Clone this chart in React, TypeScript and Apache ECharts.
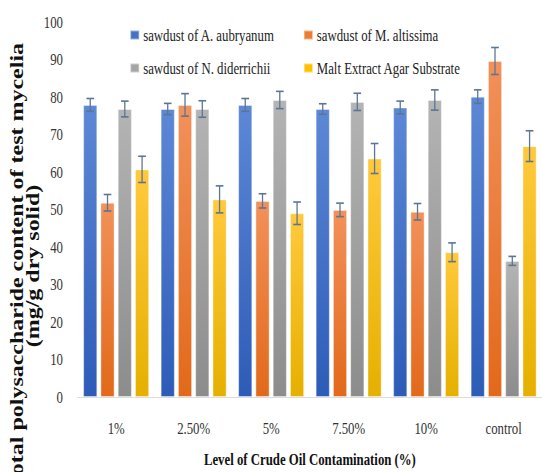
import React, { useEffect, useRef } from "react";
import * as echarts from "echarts";

const categories = ["1%", "2.50%", "5%", "7.50%", "10%", "control"];
const seriesNames = [
  "sawdust of A. aubryanum",
  "sawdust of M. altissima",
  "sawdust of N. diderrichii",
  "Malt Extract Agar Substrate",
];
const aubryanum = [77.9, 76.8, 77.9, 76.8, 77.2, 80.1];
const aubryanumErr = [1.7, 1.5, 1.7, 1.4, 1.7, 1.8];
const altissima = [51.8, 77.9, 52.3, 49.9, 49.4, 89.6];
const altissimaErr = [2.2, 3.0, 1.9, 1.8, 2.2, 3.6];
const diderrichii = [76.8, 76.8, 79.2, 78.7, 79.2, 36.3];
const diderrichiiErr = [2.1, 2.2, 2.3, 2.3, 2.7, 1.2];
const maltExtract = [60.7, 52.7, 49.0, 63.6, 38.6, 66.9];
const maltExtractErr = [3.5, 3.6, 3.0, 4.0, 2.5, 4.1];
const yTicks = { min: 0, max: 100, interval: 10 };

const allValues = [aubryanum, altissima, diderrichii, maltExtract];
const allErrors = [aubryanumErr, altissimaErr, diderrichiiErr, maltExtractErr];

const solidColors = ["#4472c4", "#ed7d31", "#a5a5a5", "#ffc000"];
const gradTop = ["#5d88d6", "#f2915a", "#b4b4b4", "#ffc93c"];
const gradBottom = ["#2d5cb8", "#e2691a", "#8c8c8c", "#e6b000"];

const SX = 0.8; // horizontal compression of the original picture
const W = 542 / SX;
const H = 472;
const BAR_W = 17.5;
const BAR_GAP = 4.1;
const FONT = "'Liberation Serif', 'Times New Roman', serif";

export default function App() {
  const ref = useRef<HTMLDivElement>(null);
  useEffect(() => {
    if (!ref.current) return;
    const chart = echarts.init(ref.current, null, { renderer: "svg" });

    const barSeries = allValues.map((vals, i) => ({
      type: "bar",
      name: seriesNames[i],
      data: vals,
      barWidth: BAR_W,
      barGap: (BAR_GAP / BAR_W) * 100 + "%",
      itemStyle: {
        color: new echarts.graphic.LinearGradient(0, 0, 0, 1, [
          { offset: 0, color: gradTop[i] },
          { offset: 1, color: gradBottom[i] },
        ]),
        borderColor: "rgba(255,255,255,0.45)",
        borderWidth: 1,
      },
    }));

    const errSeries = allValues.map((vals, i) => {
      const offset = (i - 1.5) * (BAR_W + BAR_GAP);
      return {
        type: "custom",
        name: seriesNames[i] + " err",
        z: 10,
        silent: true,
        data: vals.map((v, k) => [k, v - allErrors[i][k], v + allErrors[i][k]]),
        renderItem: (params: any, api: any) => {
          const k = api.value(0);
          const top = api.coord([k, api.value(2)]);
          const bot = api.coord([k, api.value(1)]);
          const x = top[0] + offset;
          const cap = 4.8;
          const style = { stroke: "#5b7595", lineWidth: 1.6 };
          return {
            type: "group",
            children: [
              { type: "line", shape: { x1: x, y1: top[1], x2: x, y2: bot[1] }, style },
              { type: "line", shape: { x1: x - cap, y1: top[1], x2: x + cap, y2: top[1] }, style },
              { type: "line", shape: { x1: x - cap, y1: bot[1], x2: x + cap, y2: bot[1] }, style },
            ],
          };
        },
      };
    });

    const legendCommon = {
      orient: "vertical",
      icon: "rect",
      itemWidth: 11,
      itemHeight: 9,
      itemGap: 15,
      top: 21,
      textStyle: { fontFamily: FONT, fontSize: 16, color: "#222", lineHeight: 18 },
    };

    chart.setOption({
      animation: false,
      grid: { left: 96.75, top: 22, width: 594, height: 375, containLabel: false },
      legend: [
        {
          ...legendCommon,
          left: 157,
          data: [
            { name: seriesNames[0], itemStyle: { color: solidColors[0] } },
            { name: seriesNames[2], itemStyle: { color: solidColors[2] } },
          ],
        },
        {
          ...legendCommon,
          left: 374,
          data: [
            { name: seriesNames[1], itemStyle: { color: solidColors[1] } },
            { name: seriesNames[3], itemStyle: { color: solidColors[3] } },
          ],
        },
      ],
      xAxis: {
        type: "category",
        data: categories,
        axisLine: { show: true, lineStyle: { color: "#d9d9d9", width: 1 } },
        axisTick: { show: false },
        axisLabel: { fontFamily: FONT, fontSize: 16, color: "#333", margin: 23 },
        name: "Level of Crude Oil Contamination (%)",
        nameLocation: "middle",
        nameGap: 54,
        nameTextStyle: { fontFamily: FONT, fontSize: 16, fontWeight: "bold", color: "#111" },
      },
      yAxis: {
        type: "value",
        min: yTicks.min,
        max: yTicks.max,
        interval: yTicks.interval,
        axisLine: { show: false },
        axisTick: { show: false },
        splitLine: { show: false },
        axisLabel: { fontFamily: FONT, fontSize: 16, color: "#333", margin: 18 },
      },
      graphic: [
        {
          type: "text",
          x: 31,
          y: 266,
          rotation: Math.PI / 2,
          style: {
            text: "Total polysaccharide content of test mycelia\n(mg/g dry solid)",
            fontFamily: FONT,
            fontSize: 24,
            fontWeight: "bold",
            lineHeight: 20,
            fill: "#111",
            textAlign: "center",
            textVerticalAlign: "middle",
          },
        },
      ],
      series: [...barSeries, ...errSeries],
    });

    return () => chart.dispose();
  }, []);

  return (
    <div
      style={{
        position: "fixed",
        left: 0,
        top: 0,
        width: 542,
        height: H,
        overflow: "hidden",
        background: "#fff",
      }}
    >
      <div
        ref={ref}
        style={{
          width: W,
          height: H,
          transform: `scaleX(${SX})`,
          transformOrigin: "0 0",
        }}
      />
    </div>
  );
}
